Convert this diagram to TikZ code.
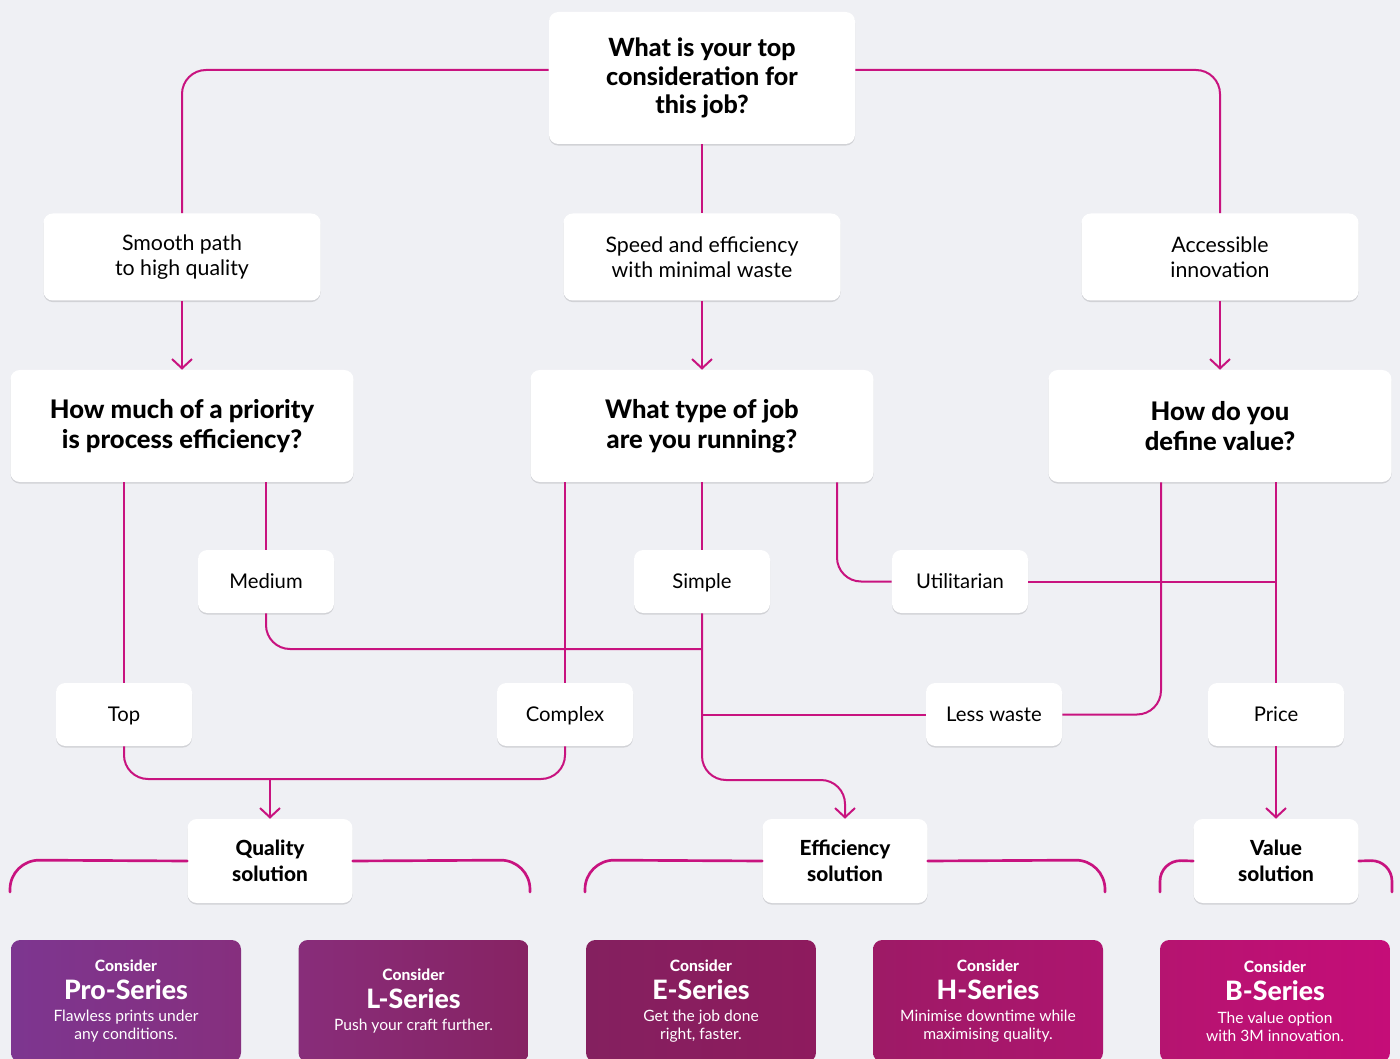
\documentclass[tikz,border=0pt]{standalone}
\usepackage{fontspec}
\setmainfont[BoldFont={Lato Heavy}]{Lato}
\usetikzlibrary{arrows.meta,shadows,positioning}

\definecolor{paper}{HTML}{EFF0F4}
\definecolor{linkpink}{HTML}{C8137F}

\begin{document}
\begin{tikzpicture}[x=0.75pt, y=-0.75pt,
boxbase/.style={rectangle, rounded corners=7pt, fill=white, align=center, inner sep=0pt, drop shadow={shadow xshift=0pt, shadow yshift=-1.2pt, opacity=0.12, fill=black}},
topnode/.style={boxbase, minimum width=229.5pt, minimum height=99pt, font=\bfseries\fontsize{18.8}{21.5}\selectfont},
answernode/.style={boxbase, minimum width=207.75pt, minimum height=65.25pt, font=\fontsize{16}{18.75}\selectfont},
questionnode/.style={boxbase, minimum width=257.25pt, minimum height=84pt, font=\bfseries\fontsize{19.2}{22.5}\selectfont},
optionnode/.style={boxbase, minimum width=102pt, minimum height=47.25pt, text height=14pt, text depth=3pt, font=\fontsize{15.2}{17}\selectfont},
solutionnode/.style={boxbase, minimum width=123.75pt, minimum height=63pt, font=\bfseries\fontsize{15.6}{19.5}\selectfont},
productnode/.style={rectangle, rounded corners=7pt, minimum width=172.5pt, minimum height=91.5pt, inner sep=0pt, text=white, align=center, font=\fontsize{11.7}{13.5}\selectfont},
link/.style={draw=linkpink, line width=1.5pt, rounded corners=18pt},
arrowlink/.style={link, -{Straight Barb[length=7pt, width=15pt]}},
brush/.style={draw=linkpink, line width=2pt, rounded corners=22pt, line cap=round}
]
\useasboundingbox (0,0) rectangle (1400,1059);
\clip (0,0) rectangle (1400,1059);
\fill[paper] (0,0) rectangle (1400,1059);

% Questions and answers
%Nodes
\node[topnode]      (q0) at (702,78)      {What is your top\\consideration for\\this job?};
\node[answernode]   (a1) at (182,257)     {Smooth path\\to high quality};
\node[answernode]   (a2) at (702,257)     {Speed and efficiency\\with minimal waste};
\node[answernode]   (a3) at (1220,257)    {Accessible\\innovation};
\node[questionnode] (q1) at (182,426)     {How much of a priority\\is process efficiency?};
\node[questionnode] (q2) at (702,426)     {What type of job\\are you running?};
\node[questionnode] (q3) at (1220,426)    {How do you\\define value?};
%Lines
\draw[link] (q0.west |- 0,70) -| (a1);
\draw[link] (q0.east |- 0,70) -| (a3);
\draw[link] (q0) -- (a2);
\draw[arrowlink] (a1) -- (q1);
\draw[arrowlink] (a2) -- (q2);
\draw[arrowlink] (a3) -- (q3);

% Options
%Nodes
\node[optionnode] (med)  at (266,581.5)  {Medium};
\node[optionnode] (simp) at (702,581.5)  {Simple};
\node[optionnode] (util) at (960,581.5)  {Utilitarian};
\node[optionnode] (top)  at (124,714.5)  {Top};
\node[optionnode] (cplx) at (565,714.5)  {Complex};
\node[optionnode] (less) at (994,714.5)  {Less waste};
\node[optionnode] (pric) at (1276,714.5) {Price};
%Solutions
\node[solutionnode] (qs) at (270,861)  {Quality\\solution};
\node[solutionnode] (es) at (845,861)  {Efficiency\\solution};
\node[solutionnode] (vs) at (1276,861) {Value\\solution};
\coordinate (qj) at (qs |- 0,779);
%Lines
\draw[link] (q1.south -| top) -- (top);
\draw[link] (q1.south -| med) -- (med);
\draw[link] (med) |- (simp |- 0,649);
\draw[link] (q2.south -| cplx) -- (cplx);
\draw[link] (q2) -- (simp);
\draw[link] (q2.south -| 837,0) |- (util);
\draw[link] (simp |- less) -- (less);
\draw[link] (less) -| (q3.south -| 1161,0);
\draw[link] (util) -- (pric |- util);
\draw[link] (q3.south -| pric) -- (pric);
\draw[arrowlink] (simp) -- (simp |- 0,780) -| (es);
\draw[link] (top) |- (qj) -| (cplx);
\draw[arrowlink] (qj) -- (qs);
\draw[arrowlink] (pric) -- (vs);

% Brush strokes
\draw[brush] (qs.west) -- (10,860) -- (10,892);
\draw[brush] (qs.east) -- (530,860) -- (530,892);
\draw[brush] (es.west) -- (585,860) -- (585,892);
\draw[brush] (es.east) -- (1105,860) -- (1105,892);
\draw[brush, rounded corners=16pt] (vs.west) -- (1160,860) -- (1160,892);
\draw[brush, rounded corners=16pt] (vs.east) -- (1392,860) -- (1392,892);

% Products
\node[productnode, left color={rgb,255:red,125;green,54;blue,144}, right color={rgb,255:red,134;green,47;blue,126}] (pro) at (126,1001)
  {{\bfseries Consider}\\[5pt]{\bfseries\fontsize{20}{20}\selectfont Pro-Series}\\[3.5pt]Flawless prints under\\any conditions.};
\node[productnode, left color={rgb,255:red,136;green,45;blue,122}, right color={rgb,255:red,135;green,35;blue,99}] (lser) at (413.5,1001)
  {{\bfseries Consider}\\[5pt]{\bfseries\fontsize{20}{20}\selectfont L-Series}\\[3.5pt]Push your craft further.};
\node[productnode, left color={rgb,255:red,132;green,32;blue,95}, right color={rgb,255:red,142;green,27;blue,94}] (eser) at (701,1001)
  {{\bfseries Consider}\\[5pt]{\bfseries\fontsize{20}{20}\selectfont E-Series}\\[3.5pt]Get the job done\\right, faster.};
\node[productnode, left color={rgb,255:red,157;green,26;blue,102}, right color={rgb,255:red,174;green,21;blue,111}] (hser) at (988,1001)
  {{\bfseries Consider}\\[5pt]{\bfseries\fontsize{20}{20}\selectfont H-Series}\\[3.5pt]Minimise downtime while\\maximising quality.};
\node[productnode, left color={rgb,255:red,181;green,20;blue,112}, right color={rgb,255:red,197;green,13;blue,120}] (bser) at (1275,1001)
  {{\bfseries Consider}\\[5pt]{\bfseries\fontsize{20}{20}\selectfont B-Series}\\[3.5pt]The value option\\with 3M innovation.};

\end{tikzpicture}
\end{document}
